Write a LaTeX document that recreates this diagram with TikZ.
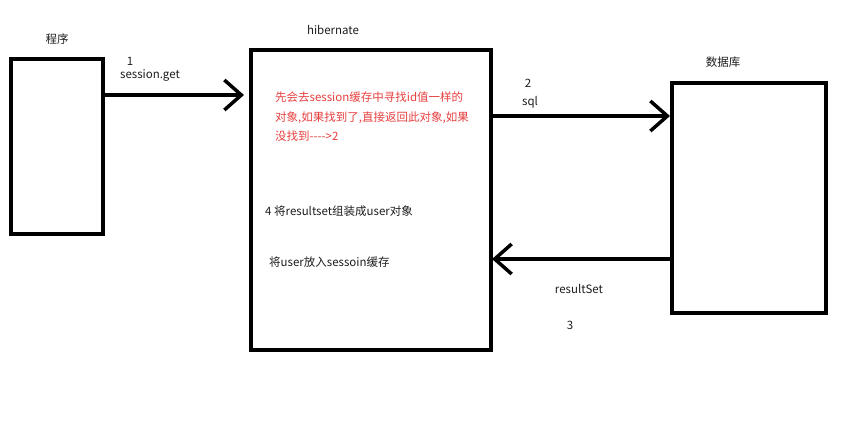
\documentclass[tikz,border=0pt]{standalone}
\usepackage{fontspec}
\setmainfont{Noto Sans CJK SC}
\usetikzlibrary{arrows.meta}
\definecolor{redtxt}{RGB}{232,64,64}
\definecolor{darktxt}{RGB}{30,30,30}
\tikzset{
  box/.style={draw=black, line width=3.5pt, rectangle, inner sep=0pt, outer sep=0pt},
  lbl/.style={inner sep=0pt, font=\fontsize{11.5}{14}\selectfont, text=darktxt},
  conn/.style={line width=3.5pt, -{Straight Barb[length=17pt,width=30pt,line width=3.5pt]}}
}
\begin{document}
\begin{tikzpicture}[x=1pt,y=-1pt]
\useasboundingbox[fill=white] (0,0) rectangle (842,429);
% boxes
\node[box, minimum width=92pt, minimum height=175pt] (prog) at (57,146.5) {};
\node[box, minimum width=240pt, minimum height=300pt] (hib) at (371,200) {};
\node[box, minimum width=154pt, minimum height=230pt] (db) at (749,198) {};
% titles
\node[lbl] (tprog) at (57,39) {程序};
\node[lbl] (thib) at (333,30) {hibernate};
\node[lbl] (tdb) at (723,62) {数据库};
% connectors
\draw[conn, shorten >=7pt] (prog.east |- 0,95) -- (hib.west |- 0,95);
\draw[conn, shorten >=2pt] (hib.east |- 0,116) -- (db.west |- 0,116);
\draw[conn, shorten >=1pt] (db.west |- 0,259) -- (hib.east |- 0,259);
% connector labels
\node[lbl] (n1) at (130,61) {1};
\node[lbl] (sget) at (150,75) {session.get};
\node[lbl] (n2) at (528,83) {2};
\node[lbl] (sql) at (530,102) {sql};
\node[lbl] (rs) at (579,289) {resultSet};
\node[lbl] (n3) at (570,325) {3};
% hibernate texts
\node[inner sep=0pt, anchor=west, align=left, text=redtxt, font=\fontsize{11.5}{19.5}\selectfont] (red) at (275,117)
  {先会去session缓存中寻找id值一样的\\对象,如果找到了,直接返回此对象,如果\\没找到-{}-{}-{}->2};
\node[lbl, anchor=west] (step4) at (265,211) {4 将resultset组装成user对象};
\node[lbl, anchor=west] (put) at (269,262) {将user放入sessoin缓存};
\end{tikzpicture}
\end{document}
